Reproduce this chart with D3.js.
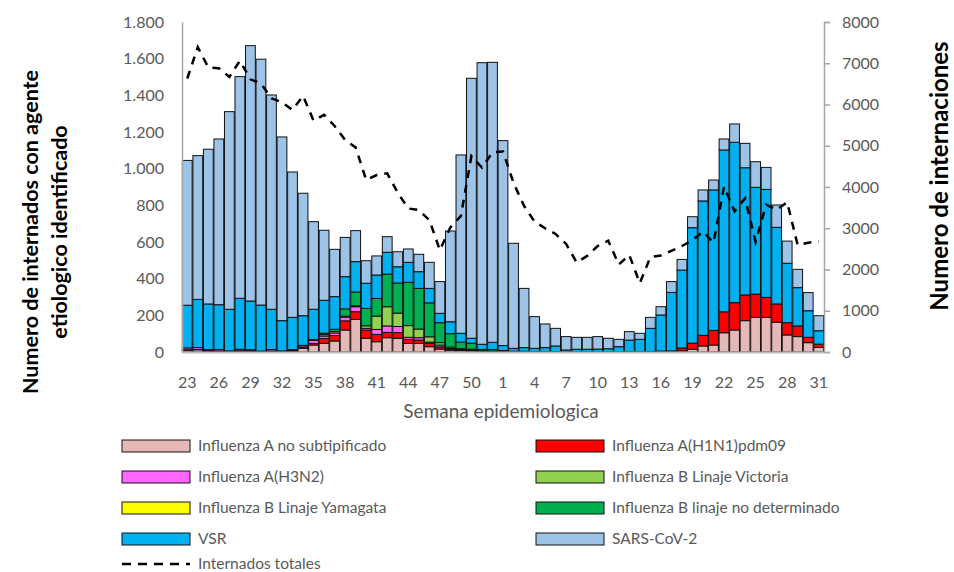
<!DOCTYPE html>
<html>
<head>
<meta charset="utf-8">
<script src="https://cdn.jsdelivr.net/npm/d3@7"></script>
<style>
  body { margin: 0; background: #fff; }
  text { font-family: Lato, "Open Sans", sans-serif; }
</style>
</head>
<body>
<svg id="chart" width="954" height="572"></svg>
<script>
// semanas epidemiologicas 23/2022 .. 31/2023
const weeks = [23,24,25,26,27,28,29,30,31,32,33,34,35,36,37,38,39,40,41,42,43,44,45,46,47,48,49,50,51,52,
  1,2,3,4,5,6,7,8,9,10,11,12,13,14,15,16,17,18,19,20,21,22,23,24,25,26,27,28,29,30,31];

const aNoSub = [10,12,5,3,3,5,4,2,3,3,5, 20,38,47,60,120,178,75,56,78,75, 47,47,29,16,10,8,7,3,3,2,
  2,2,2,2,2,1,1,1,1,1, 1,2,2,2,3,3,7,15,33,38, 105,120,171,189,189,162,93,84,51,25];
const h1n1 = [2,2,2,2,1,2,2,1,2,1,3, 6,9,27,30,50,42,45,40,29,31, 22,18,18,12,6,4,4,2,2,1,
  0,0,0,0,0,0,0,0,0,0, 0,0,0,1,2,3,15,33,58,80, 114,149,140,127,109,100,67,58,29,18];
const h3n2 = [10,10,6,8,2,8,6,2,8,2,5, 8,16,13,14,20,27,9,27,35,33, 11,13,7,10,3,3,2,1,0,0,
  0,0,0,0,0,0,0,0,0,0, 0,0,0,0,0,0,0,0,0,0, 0,0,0,0,0,0,0,0,0,0];
const bVictoria = [0,0,0,0,0,0,0,0,0,0,0, 0,2,8,8,5,5,14,73,105,73, 64,47,29,13,8,3,2,1,0,0,
  0,0,0,0,0,0,0,0,0,0, 0,0,0,0,0,0,0,0,0,0, 0,0,0,0,0,0,0,0,0,0];
const bYamagata = [0,0,0,0,0,0,0,0,0,0,0, 0,0,0,0,0,0,0,0,0,0, 0,0,0,0,0,0,0,0,0,0,
  0,0,0,0,0,0,0,0,0,0, 0,0,0,0,0,0,0,0,0,0, 0,0,0,0,0,0,0,0,0,0];
const bNoDet = [0,0,0,0,0,0,0,0,0,0,0, 2,3,8,12,40,75,95,96,178,164, 236,222,185,109,73,36,33,7,8,5,
  2,2,0,0,0,0,0,0,0,0, 0,0,0,0,0,0,0,0,0,0, 0,0,0,0,0,0,0,0,0,0];
const vsr = [233,263,249,245,227,278,266,251,220,165,176, 162,165,179,178,176,166,137,128,119,89,
  109,91,79,51,65,48,27,28,40,27, 16,20,18,22,31,10,14,14,15,17,
  28,63,67,126,197,319,425,630,733,766, 883,875,694,582,589,418,324,209,145,73];
const sarsCov2 = [790,784,844,904,1078,1209,1393,1341,1169,1002,793, 668,478,382,258,214,169,123,104,85,82,
  73,95,142,173,495,973,1418,1536,1527,1118, 573,323,173,129,96,73,65,65,68,57,
  40,46,33,60,45,59,58,60,60,54, 60,100,133,140,120,122,121,100,99,82];
const internados = [6630,7390,6900,6880,6670,7060,6610,6510,6150,6050,5870,
  6210,5610,5750,5480,5140,4960,4170,4290,4330,3860,
  3480,3440,3200,2470,3020,3300,4750,4470,4840,4860,
  4100,3540,3160,3000,2860,2620,2170,2330,2570,2700,
  2120,2350,1670,2300,2340,2450,2570,2710,2920,2650,
  4010,3410,3725,2670,3570,3450,3630,2590,2650,2680];

const seriesNames = ["Influenza A no subtipificado", "Influenza A(H1N1)pdm09", "Influenza A(H3N2)",
  "Influenza B Linaje Victoria", "Influenza B Linaje Yamagata", "Influenza B linaje no determinado",
  "VSR", "SARS-CoV-2"];
const seriesColors = ["#E6B8B7", "#FF0000", "#FF66FF", "#92D050", "#FFFF00", "#00B050", "#00B0F0", "#9DC3E6"];
const seriesData = [aNoSub, h1n1, h3n2, bVictoria, bYamagata, bNoDet, vsr, sarsCov2];

const svg = d3.select("#chart");
const LEFT = 182, RIGHT = 824, TOP = 22, BOTTOM = 352;

const x = d3.scaleBand()
  .domain(d3.range(weeks.length))
  .range([LEFT, RIGHT])
  .paddingInner(0.07)
  .paddingOuter(0.035);

const yL = d3.scaleLinear().domain([0, 1800]).range([BOTTOM, TOP]);
const yR = d3.scaleLinear().domain([0, 8000]).range([BOTTOM, TOP]);

const locale = d3.formatLocale({ decimal: ",", thousands: ".", grouping: [3], currency: ["$", ""] });
const fmtL = locale.format(",d");

// stacked bars
const rows = weeks.map((w, i) => {
  let r = { i: i };
  seriesNames.forEach((n, k) => { r[n] = seriesData[k][i]; });
  return r;
});
const stacked = d3.stack().keys(seriesNames)(rows);

svg.append("g")
  .selectAll("g")
  .data(stacked)
  .enter().append("g")
    .attr("fill", (d, k) => seriesColors[k])
  .selectAll("rect")
  .data(d => d.filter(s => s[1] - s[0] > 0))
  .enter().append("rect")
    .attr("x", d => x(d.data.i))
    .attr("width", x.bandwidth())
    .attr("y", d => yL(d[1]))
    .attr("height", d => yL(d[0]) - yL(d[1]))
    .style("stroke", "#111")
    .style("stroke-width", 1);

// axes
let axL = svg.append("g")
  .attr("transform", "translate(" + LEFT + ",0)")
  .call(d3.axisLeft(yL).tickValues(d3.range(0, 1801, 200)).tickSize(0).tickPadding(18).tickFormat(fmtL));
axL.select(".domain").style("stroke", "#A6A6A6").style("stroke-width", 1.5);
axL.selectAll("text").style("font-size", "16px").style("fill", "#595959");

let axR = svg.append("g")
  .attr("transform", "translate(" + RIGHT + ",0)")
  .call(d3.axisRight(yR).tickValues(d3.range(0, 8001, 1000)).tickSize(6).tickPadding(12).tickFormat(d3.format("d")));
axR.selectAll(".domain, line").style("stroke", "#A6A6A6").style("stroke-width", 1.5);
axR.selectAll("text").style("font-size", "16px").style("fill", "#595959");

let axB = svg.append("g")
  .attr("transform", "translate(0," + BOTTOM + ")")
  .call(d3.axisBottom(x).tickValues(d3.range(0, weeks.length, 3)).tickSize(0).tickPadding(25)
    .tickFormat(i => weeks[i]));
axB.select(".domain").style("stroke", "#BFBFBF").style("stroke-width", 2);
axB.selectAll("text").style("font-size", "16px").style("fill", "#595959");

// total line
const line = d3.line()
  .x((d, i) => x(i) + x.bandwidth() / 2)
  .y(d => yR(d));

svg.append("path")
  .datum(internados)
  .attr("d", line)
  .style("fill", "none")
  .style("stroke", "#000")
  .style("stroke-width", 2.5)
  .style("stroke-dasharray", "8,7");

// titles
svg.append("text")
  .attr("x", 501).attr("y", 418)
  .attr("text-anchor", "middle")
  .style("font-size", "19px").style("fill", "#595959")
  .text("Semana epidemiologica");

let lt = svg.append("text")
  .attr("transform", "translate(30,232) rotate(-90)")
  .attr("text-anchor", "middle")
  .style("font-size", "21.5px").style("font-weight", "bold").style("fill", "#000");
lt.append("tspan").attr("x", 0).attr("dy", "0.35em").text("Numero de internados con agente");
lt.append("tspan").attr("x", 0).attr("dy", "1.35em").text("etiologico identificado");

svg.append("text")
  .attr("transform", "translate(940,176) rotate(-90)")
  .attr("text-anchor", "middle")
  .attr("dy", "0.35em")
  .style("font-size", "24px").style("font-weight", "bold").style("fill", "#000")
  .text("Numero de internaciones");

// legend
const legend = svg.append("g");
const colX = [122, 536], rowY = [446, 477, 508, 539, 564];

seriesNames.forEach((name, k) => {
  let gx = colX[k % 2], gy = rowY[Math.floor(k / 2)];
  legend.append("rect")
    .attr("x", gx).attr("y", gy - 6)
    .attr("width", 68).attr("height", 12)
    .style("fill", seriesColors[k])
    .style("stroke", "#111").style("stroke-width", 1);
  legend.append("text")
    .attr("x", gx + 76).attr("y", gy).attr("dy", "0.35em")
    .style("font-size", "15.5px").style("fill", "#595959")
    .text(name);
});

legend.append("line")
  .attr("x1", colX[0]).attr("x2", colX[0] + 68)
  .attr("y1", rowY[4]).attr("y2", rowY[4])
  .style("stroke", "#000").style("stroke-width", 2.5).style("stroke-dasharray", "9,7");
legend.append("text")
  .attr("x", colX[0] + 76).attr("y", rowY[4]).attr("dy", "0.35em")
  .style("font-size", "15.5px").style("fill", "#595959")
  .text("Internados totales");
</script>
</body>
</html>
